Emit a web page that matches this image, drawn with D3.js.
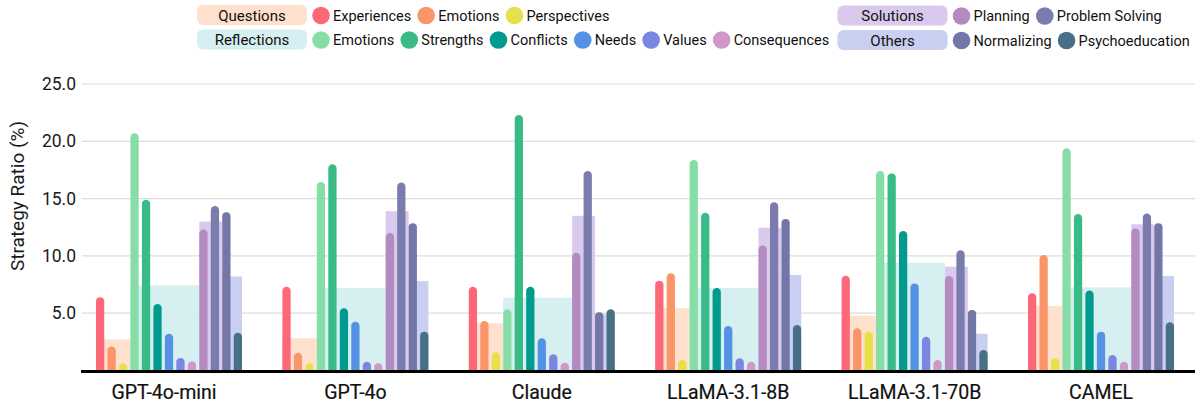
<!DOCTYPE html>
<html><head><meta charset="utf-8">
<script src="https://cdn.jsdelivr.net/npm/d3@7/dist/d3.min.js"></script>
<style>body{margin:0;background:#fff}svg{display:block;font-family:Roboto,"Liberation Sans",sans-serif}</style>
</head><body><svg id="c" width="1203" height="406"></svg>
<script>
const models = ["GPT-4o-mini","GPT-4o","Claude","LLaMA-3.1-8B","LLaMA-3.1-70B","CAMEL"];
const strategies = ["Q-Experiences","Q-Emotions","Q-Perspectives","R-Emotions","R-Strengths","R-Conflicts","R-Needs","R-Values","R-Consequences","S-Planning","S-Problem Solving","O-Normalizing","O-Psychoeducation"];
const strategyLabels = ["Experiences","Emotions","Perspectives","Emotions","Strengths","Conflicts","Needs","Values","Consequences","Planning","Problem Solving","Normalizing","Psychoeducation"];
const strategyColors = ["#fd6878","#f99569","#e6e04a","#86dea6","#38bb87","#009a8f","#5592e6","#7a86e2","#cf98c8","#b38bc1","#7b7cae","#7377a8","#476f85"];
const values = {
  "GPT-4o-mini":   [6.4, 2.1, 0.6, 20.7, 14.9, 5.8, 3.2, 1.1, 0.8, 12.3, 14.35, 13.8, 3.3],
  "GPT-4o":        [7.3, 1.55, 0.63, 16.45, 18.0, 5.43, 4.26, 0.77, 0.63, 12.0, 16.4, 12.85, 3.39],
  "Claude":        [7.3, 4.32, 1.59, 5.34, 22.3, 7.31, 2.81, 1.41, 0.68, 10.28, 17.4, 5.08, 5.34],
  "LLaMA-3.1-8B":  [7.84, 8.48, 0.92, 18.37, 13.77, 7.2, 3.88, 1.06, 0.77, 10.9, 14.68, 13.22, 3.97],
  "LLaMA-3.1-70B": [8.27, 3.68, 3.39, 17.4, 17.2, 12.17, 7.6, 2.95, 0.92, 8.25, 10.5, 5.28, 1.79],
  "CAMEL":         [6.73, 10.08, 1.06, 19.39, 13.66, 6.97, 3.39, 1.35, 0.77, 12.4, 13.7, 12.85, 4.2]
};
const categories = ["Questions","Reflections","Solutions","Others"];
const categoryMembers = [[0,2],[3,8],[9,10],[11,12]];
const categoryColors = ["#ffe0cc","#d6eff0","#d9c9ec","#c9cff0"];
const categoryAverages = {
  "GPT-4o-mini":   [2.72, 7.43, 13.0, 8.2],
  "GPT-4o":        [2.81, 7.2, 13.9, 7.8],
  "Claude":        [4.12, 6.35, 13.5, 4.9],
  "LLaMA-3.1-8B":  [5.43, 7.2, 12.46, 8.33],
  "LLaMA-3.1-70B": [4.78, 9.41, 9.06, 3.21],
  "CAMEL":         [5.63, 7.26, 12.76, 8.25]
};
const yTicks = [5,10,15,20,25];
const legendRows = [
  {cat:0, items:[0,1,2]},
  {cat:1, items:[3,4,5,6,7,8]},
  {cat:2, items:[9,10]},
  {cat:3, items:[11,12]}
];

const svg = d3.select("#c");
const y = d3.scaleLinear().domain([0,25]).range([370.5,84]);
const x0 = d3.scaleBand().domain(models).range([75.8,1194.2]).paddingInner(0.2167).paddingOuter(0.1083);
const x1 = d3.scaleBand().domain(d3.range(strategies.length)).range([0, x0.bandwidth()]).paddingInner(0.28).paddingOuter(0);
const bw = x1.bandwidth();

// grid
svg.append("g").selectAll("line").data(yTicks).join("line")
  .attr("x1",82).attr("x2",1195).attr("y1",d=>y(d)).attr("y2",d=>y(d))
  .attr("stroke","#dcdcdc").attr("stroke-width",1.2);

// y axis labels
const ya = svg.append("g").attr("transform","translate(82,0)")
  .call(d3.axisLeft(y).tickValues(yTicks).tickFormat(d3.format(".1f")).tickSize(0).tickPadding(6));
ya.select(".domain").remove();
ya.selectAll("text").attr("font-size",17.5).attr("fill","#1a1a1a").attr("font-family","Roboto,'Liberation Sans',sans-serif");

svg.append("text").attr("transform","translate(24,196) rotate(-90)").attr("text-anchor","middle")
  .attr("font-size",19).attr("fill","#1a1a1a").text("Strategy Ratio (%)");

// groups
const g = svg.append("g").selectAll("g").data(models).join("g").attr("transform",m=>`translate(${x0(m)},0)`);
// background category rects
g.each(function(m){
  const gg = d3.select(this);
  categoryMembers.forEach((mem,ci)=>{
    const a = mem[0], b = mem[1];
    const left = x1(a);
    const right = b < strategies.length-1 ? x1(b+1) : x1(b)+bw;
    const v = categoryAverages[m][ci];
    gg.append("rect").attr("x",left).attr("y",y(v)).attr("width",right-left).attr("height",y(0)-y(v))
      .attr("fill",categoryColors[ci]);
  });
});
// bars with rounded tops
function barPath(xl, v){
  const top = y(v), bot = y(0), r = bw/2;
  const h = bot-top;
  if (h <= r) { return `M${xl},${bot} L${xl},${bot-Math.max(h-r,0)} A${r},${r} 0 0 1 ${xl+bw},${bot} Z`; }
  return `M${xl},${bot} L${xl},${top+r} A${r},${r} 0 0 1 ${xl+bw},${top+r} L${xl+bw},${bot} Z`;
}
g.each(function(m){
  d3.select(this).selectAll("path.bar").data(values[m]).join("path").attr("class","bar")
    .attr("d",(v,i)=>barPath(x1(i),v)).attr("fill",(v,i)=>strategyColors[i]);
});

// baseline
svg.append("line").attr("x1",81).attr("x2",1195).attr("y1",371.5).attr("y2",371.5).attr("stroke","#000").attr("stroke-width",3);

// x labels
svg.append("g").selectAll("text").data(models).join("text")
  .attr("x",m=>x0(m)+x0.bandwidth()/2 - (m==="GPT-4o-mini"?5:0)).attr("y",398.5).attr("text-anchor","middle")
  .attr("font-size",19.5).attr("font-weight",400).attr("fill","#111")
  .attr("stroke","#111").attr("stroke-width",0.2).text(m=>m);

// legend
const legendPos = [{x:197,y:5},{x:197,y:29.5},{x:837.5,y:5.5},{x:837.5,y:30}];
legendRows.forEach((row,ri)=>{
  const p = legendPos[row.cat];
  const lg = svg.append("g");
  lg.append("rect").attr("x",p.x).attr("y",p.y).attr("width",110).attr("height",20).attr("rx",6).attr("fill",categoryColors[row.cat]);
  lg.append("text").attr("x",p.x+55).attr("y",p.y+15.5).attr("text-anchor","middle").attr("font-size",15).attr("fill","#111").text(categories[row.cat]);
  let cx = p.x + 124;
  row.items.forEach(i=>{
    lg.append("circle").attr("cx",cx).attr("cy",p.y+10.5).attr("r",8.8).attr("fill",strategyColors[i]);
    const t = lg.append("text").attr("x",cx+12).attr("y",p.y+15.5).attr("font-size",14.5).attr("fill","#111").text(strategyLabels[i]);
    const w = t.node().getComputedTextLength();
    cx = cx + 12 + w + 6 + 9;
  });
});
</script></body></html>
